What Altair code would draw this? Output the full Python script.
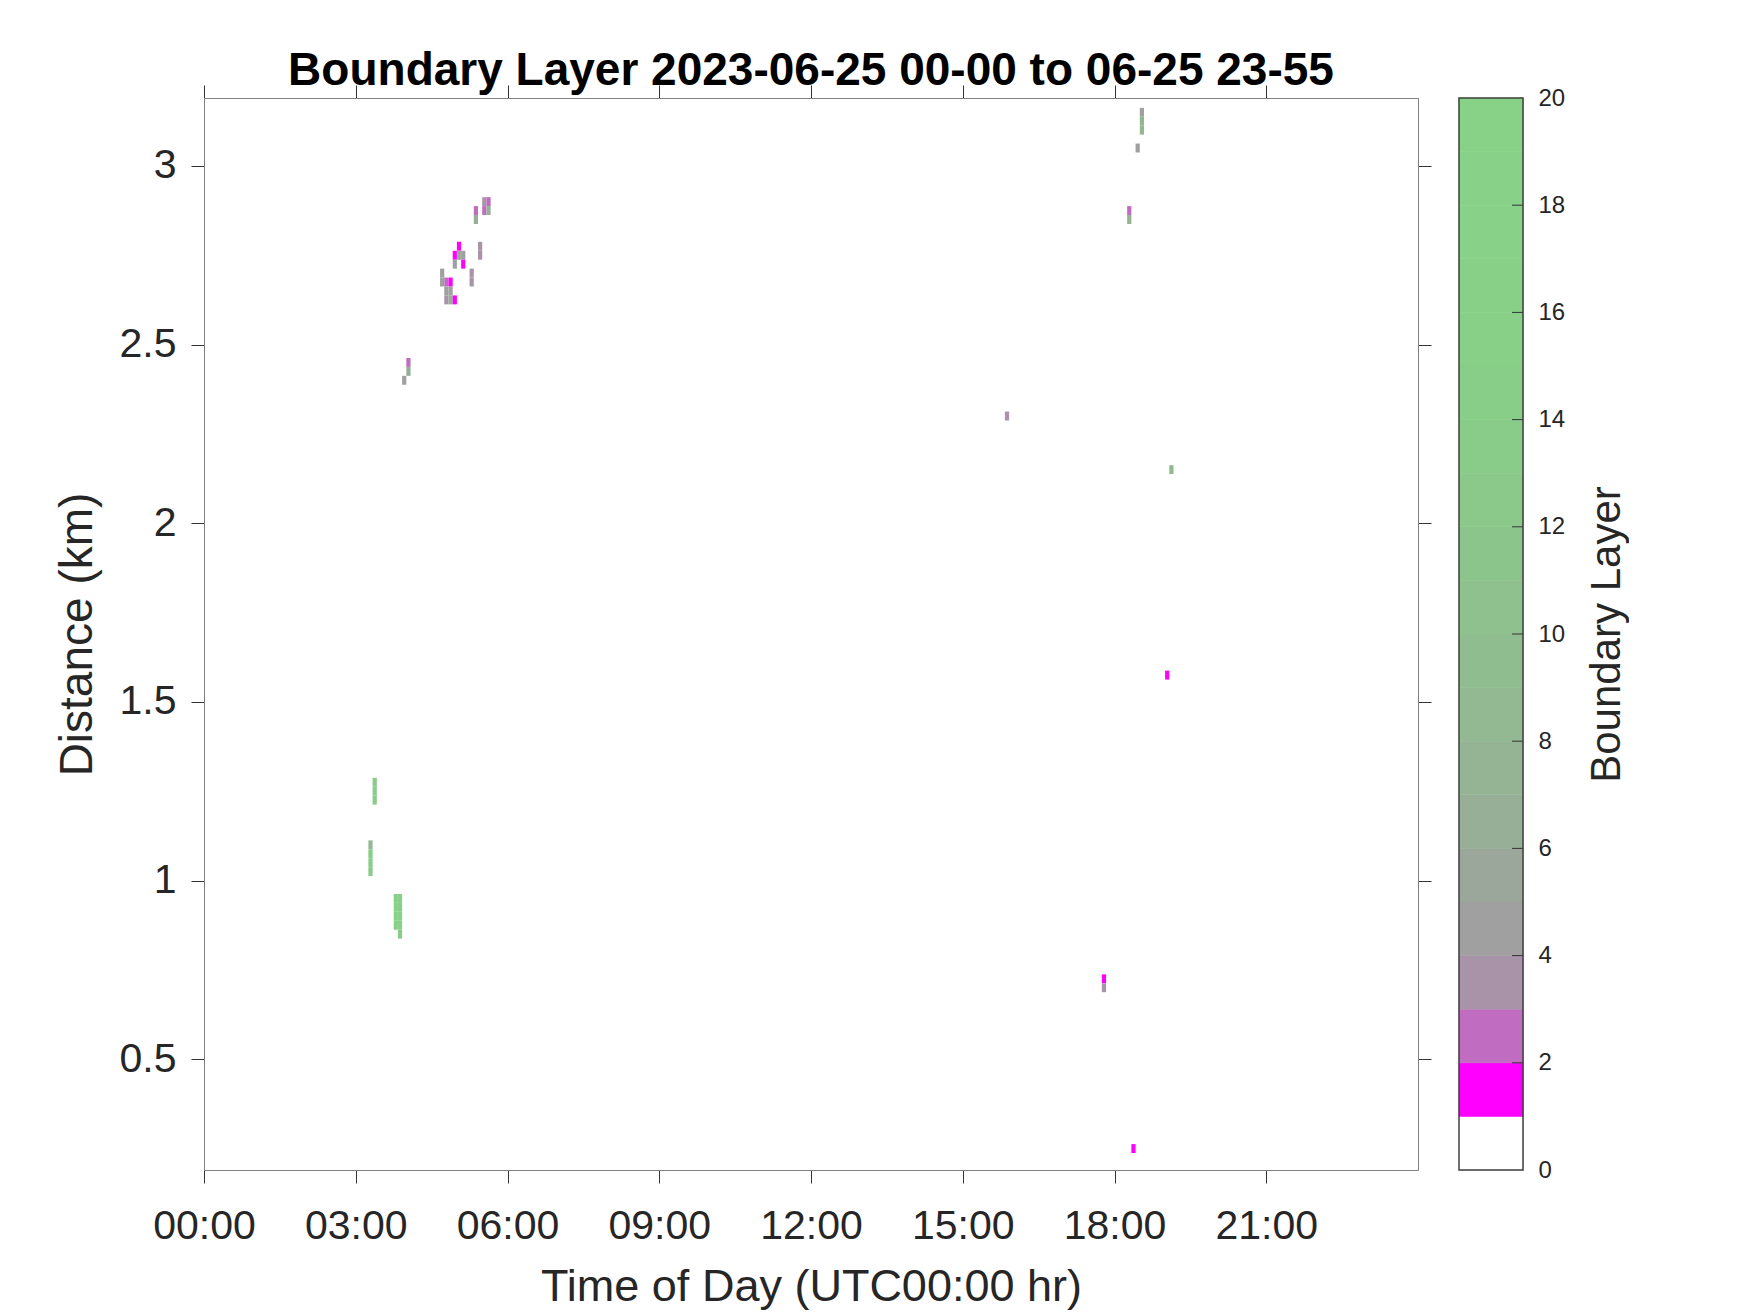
import altair as alt
import pandas as pd

# ---- data (5-min time steps, 25 m range gates) ----
time_min = [330, 335, 330, 335, 320, 320,
            300, 295, 300, 305, 295, 305, 325, 325,
            280, 280, 285, 290, 285, 290, 315, 315, 285, 290, 295,
            240, 240, 235,
            200, 200, 200,
            195, 195, 195, 195,
            225, 225, 225, 225, 230, 230, 230, 230, 230,
            1110, 1110, 1110, 1105, 1095, 1095,
            950, 1145, 1140, 1065, 1065, 1100]
dist_km = [2.900, 2.900, 2.875, 2.875, 2.875, 2.850,
           2.775, 2.750, 2.750, 2.750, 2.725, 2.725, 2.775, 2.750,
           2.700, 2.675, 2.675, 2.675, 2.650, 2.650, 2.700, 2.675, 2.625, 2.625, 2.625,
           2.450, 2.425, 2.400,
           1.275, 1.250, 1.225,
           1.100, 1.075, 1.050, 1.025,
           0.950, 0.925, 0.900, 0.875, 0.950, 0.925, 0.900, 0.875, 0.850,
           3.150, 3.125, 3.100, 3.050, 2.875, 2.850,
           2.300, 2.150, 1.575, 0.725, 0.700, 0.250]
layer_value = [3.5, 2.5, 2.5, 6.5, 2.5, 6.5,
               1.5, 1.5, 5.5, 4.5, 4.5, 1.5, 3.5, 3.5,
               4.5, 4.5, 2.5, 1.5, 4.5, 4.5, 3.5, 3.5, 3.5, 6.5, 1.5,
               2.5, 6.5, 4.5,
               13, 14, 13,
               8, 13, 14, 12,
               16, 17, 18, 16, 17, 16, 18, 17, 14,
               4.5, 7, 8, 4.5, 2.5, 7,
               3.5, 8, 1.5, 1.5, 3.5, 1.5]

x_tick_hours = [0, 3, 6, 9, 12, 15, 18, 21]
x_tick_labels = ["00:00", "03:00", "06:00", "09:00", "12:00", "15:00", "18:00", "21:00"]
y_ticks = [0.5, 1, 1.5, 2, 2.5, 3]
cbar_edges = list(range(0, 21))
cbar_ticks = [0, 2, 4, 6, 8, 10, 12, 14, 16, 18, 20]
cbar_inner_ticks = [2, 4, 6, 8, 10, 12, 14, 16, 18]
cmap_thresholds = list(range(1, 20))
cmap_colors = ["#ffffff", "#ff00ff", "#c06cc0", "#a993a9", "#a0a0a0",
               "#9aa79a", "#97ae97", "#94b494", "#92b992", "#90bd90",
               "#8ec18e", "#8cc58c", "#8ac98a", "#89cc89", "#88ce88",
               "#88cf88", "#88d088", "#88d188", "#88d188", "#88d288"]

STEP_MIN = 5
GATE_KM = 0.025
W, H, CBW = 1214, 1072, 64
FONT = "Liberation Sans"
TXT = "#262626"
BOX = "#808080"

df = pd.DataFrame({"tmin": time_min, "dist": dist_km, "value": layer_value})
df["t0"] = df["tmin"] / 60.0
df["t1"] = (df["tmin"] + STEP_MIN) / 60.0
df["d0"] = df["dist"] - GATE_KM / 2
df["d1"] = df["dist"] + GATE_KM / 2

xs = alt.Scale(domain=[0, 24], nice=False, zero=False)
ys = alt.Scale(domain=[0.19, 3.19], nice=False, zero=False)
cscale = alt.Scale(type="threshold", domain=cmap_thresholds, range=cmap_colors)

label_expr = " : ".join(
    f"datum.value == {h} ? '{l}'" for h, l in zip(x_tick_hours, x_tick_labels)
) + " : ''"

common_axis = dict(grid=False, domainColor=BOX, tickColor="#333333", tickWidth=1,
                   labelColor=TXT, titleColor=TXT, labelFont=FONT, titleFont=FONT,
                   titleFontWeight="normal")

heat = alt.Chart(df).mark_rect().encode(
    x=alt.X("t0:Q", scale=xs, axis=alt.Axis(
        orient="bottom", values=x_tick_hours, labelExpr=label_expr,
        title="Time of Day (UTC00:00 hr)", titleFontSize=45, labelFontSize=41,
        tickSize=13, labelPadding=23, titlePadding=18, labelFlush=False,
        labelOverlap=False, **common_axis)),
    x2="t1:Q",
    y=alt.Y("d0:Q", scale=ys, axis=alt.Axis(
        orient="left", values=y_ticks, format="~g",
        title="Distance (km)", titleFontSize=46, labelFontSize=41,
        tickSize=13, labelPadding=15, titlePadding=18, labelFlush=False,
        labelOverlap=False, **common_axis)),
    y2="d1:Q",
    color=alt.Color("value:Q", scale=cscale, legend=None),
)

frame = alt.Chart(df).mark_point(opacity=0, size=0).encode(
    x=alt.X("t0:Q", scale=xs, axis=alt.Axis(
        orient="top", values=x_tick_hours, labels=False, title=None,
        tickSize=13, **common_axis)),
    y=alt.Y("dist:Q", scale=ys, axis=alt.Axis(
        orient="right", values=y_ticks, labels=False, title=None,
        tickSize=13, **common_axis)),
)

main = alt.layer(heat, frame).resolve_scale(x="independent", y="independent").properties(
    width=W, height=H,
    title=alt.TitleParams(
        "Boundary Layer 2023-06-25 00-00 to 06-25 23-55",
        fontSize=46, fontWeight="bold", font=FONT, color="#000000",
        anchor="middle", offset=-10),
)

cb_df = pd.DataFrame({"lo": cbar_edges[:-1], "hi": cbar_edges[1:]})
cb_df["mid"] = (cb_df["lo"] + cb_df["hi"]) / 2
cbs = alt.Scale(domain=[0, 20], nice=False, zero=False)

cbar_fill = alt.Chart(cb_df).mark_rect(strokeWidth=0.6).encode(
    x=alt.value(0), x2=alt.value(CBW),
    y=alt.Y("lo:Q", scale=cbs, axis=alt.Axis(
        orient="right", values=cbar_ticks, ticks=False, domain=False,
        labelFontSize=24, labelPadding=15, labelFlush=False, labelOverlap=False,
        title="Boundary Layer", titleFontSize=42, titleAngle=270, titleBaseline="top",
        titlePadding=22,
        grid=False, labelColor=TXT, titleColor=TXT, labelFont=FONT, titleFont=FONT,
        titleFontWeight="normal")),
    y2="hi:Q",
    color=alt.Color("mid:Q", scale=cscale, legend=None),
    stroke=alt.Stroke("mid:Q", scale=cscale, legend=None),
)

tick_df = pd.DataFrame({"v": cbar_inner_ticks})
cbar_ticks_layer = alt.Chart(tick_df).mark_rule(color="#333333", strokeWidth=1).encode(
    y=alt.Y("v:Q", scale=cbs), x=alt.value(CBW - 11), x2=alt.value(CBW),
)

border_df = pd.DataFrame({"a": [cbar_edges[0]], "b": [cbar_edges[-1]]})
cbar_border = alt.Chart(border_df).mark_rect(fillOpacity=0, stroke="#404040", strokeWidth=1.5).encode(
    y=alt.Y("a:Q", scale=cbs), y2="b:Q", x=alt.value(0), x2=alt.value(CBW),
)

cbar = alt.layer(cbar_fill, cbar_ticks_layer, cbar_border).properties(width=CBW, height=H)

chart = alt.hconcat(main, cbar, spacing=41, bounds="flush").properties(
    padding={"left": 45, "top": 39, "right": 0, "bottom": 0},
).configure_view(stroke=BOX, strokeWidth=1).configure(background="white")

chart.save("out.html", embed_options={"renderer": "svg", "actions": False})
